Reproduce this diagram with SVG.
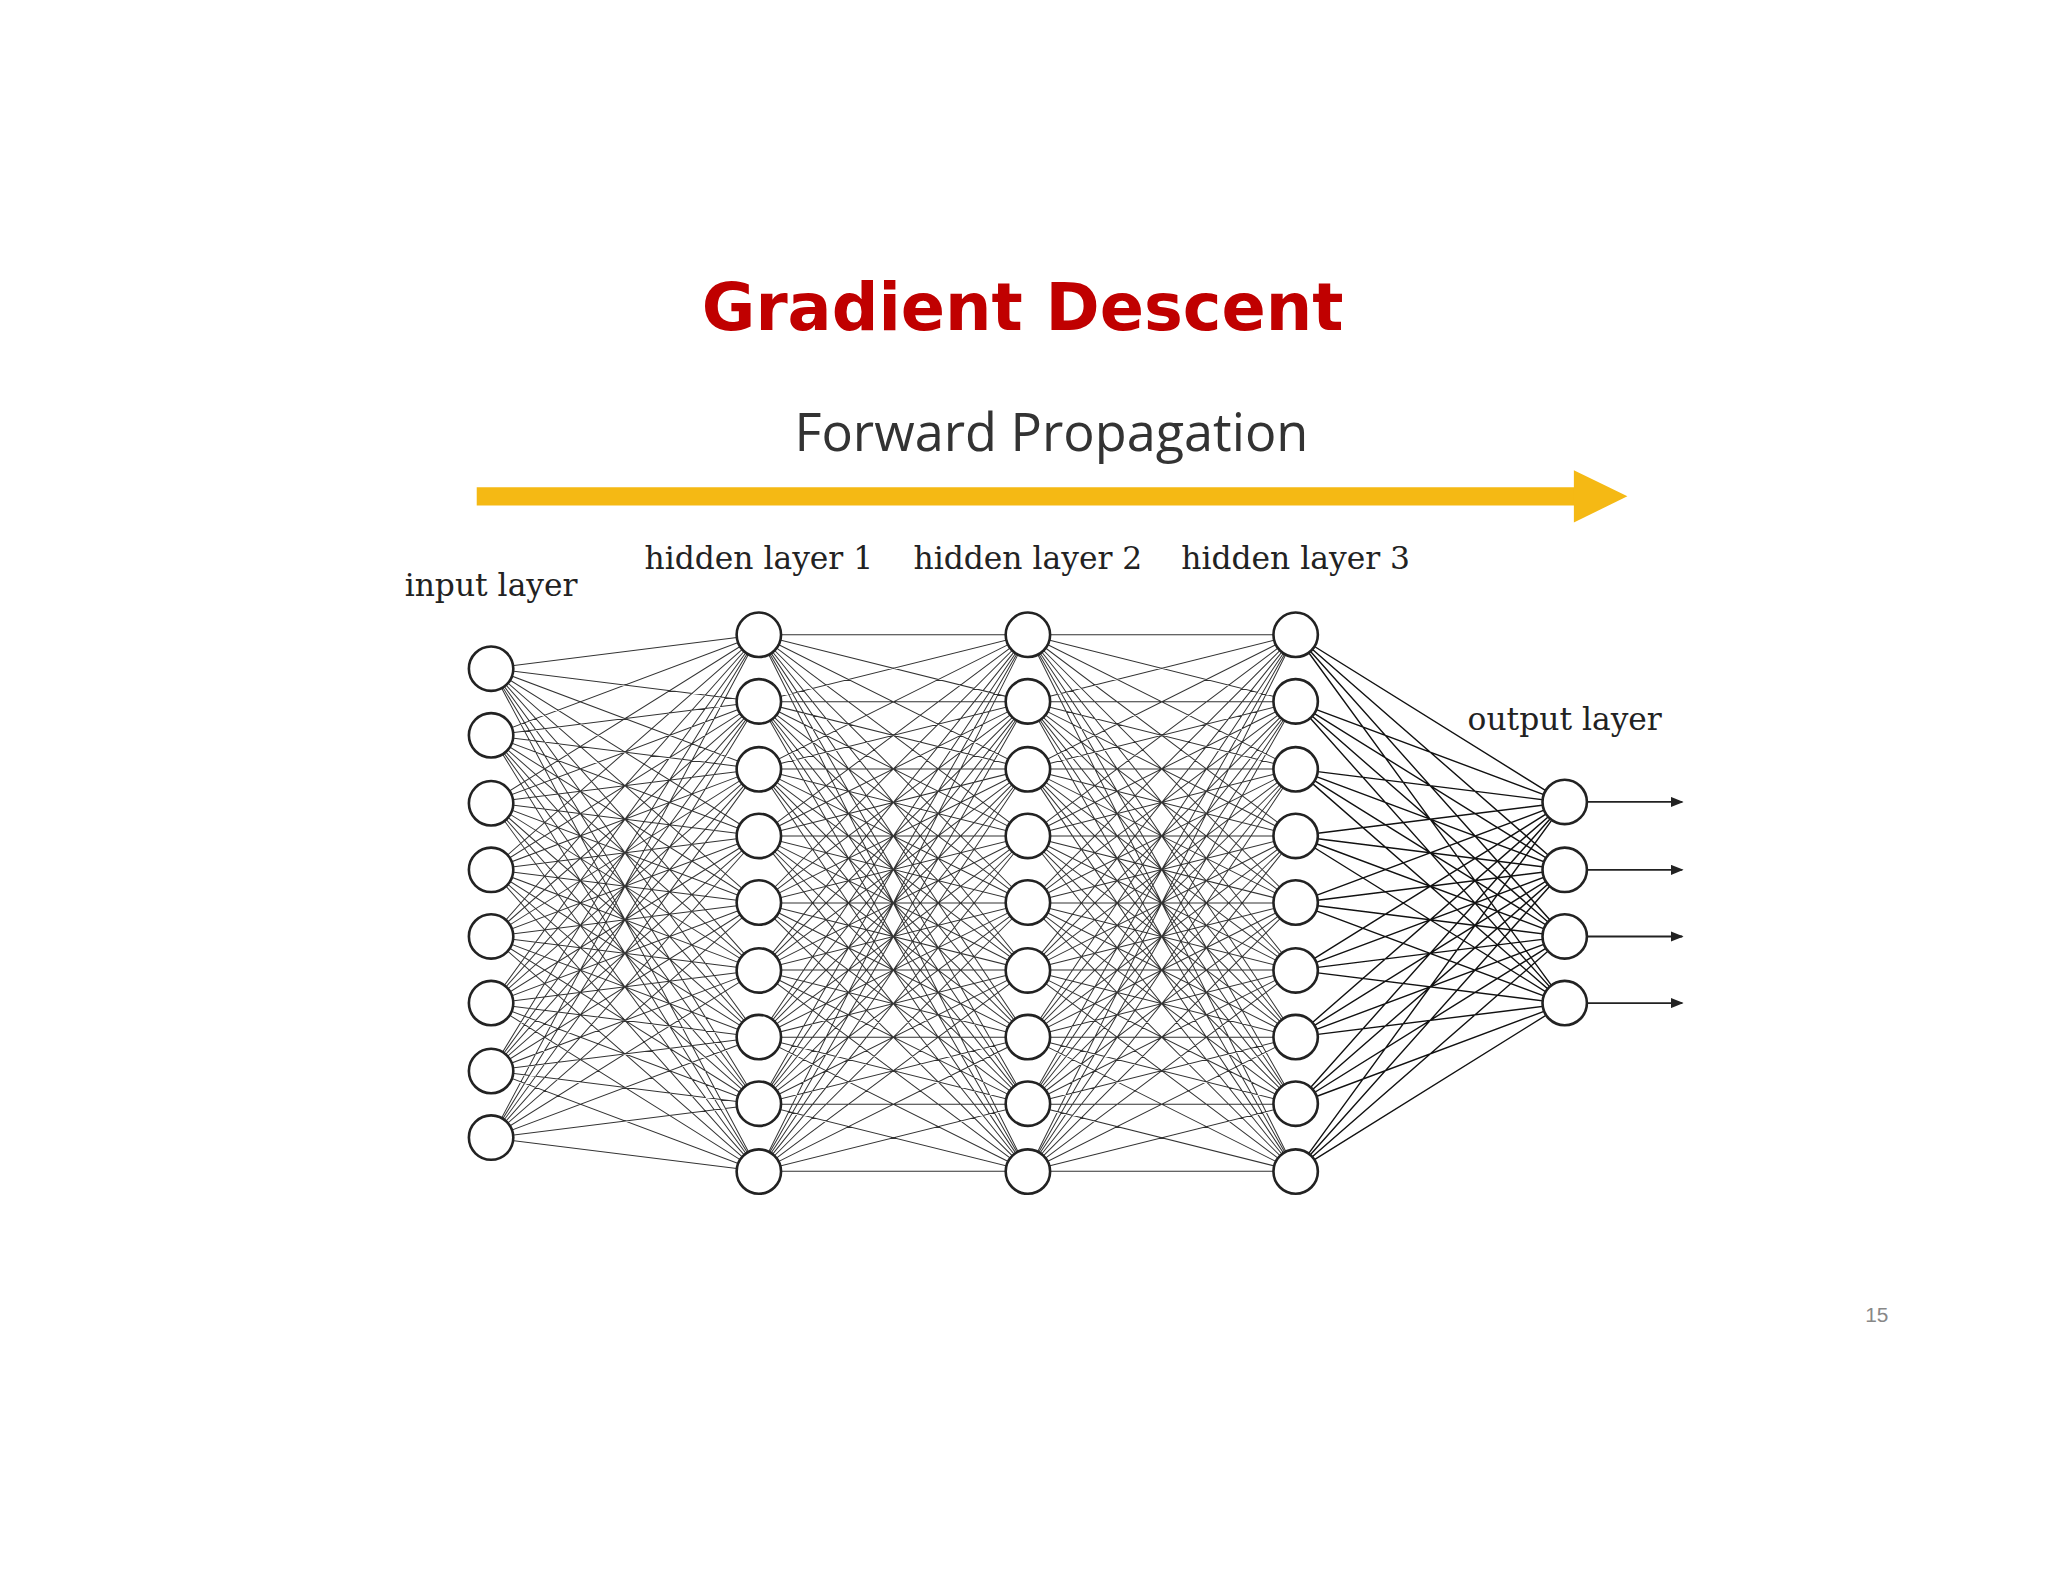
<svg xmlns="http://www.w3.org/2000/svg" width="2048" height="1582" viewBox="0 0 2048 1582">
<style>
.c{fill:#fff;stroke:#222;stroke-width:2}
.e{fill:none;stroke:#333;stroke-width:1}
.lab{font-family:"DejaVu Serif","Liberation Serif",serif;font-size:24px;fill:#222;text-anchor:middle}
</style>
<defs>
<marker id="ah" markerWidth="10" markerHeight="8" refX="9" refY="4" orient="auto" markerUnits="userSpaceOnUse"><path d="M0,0L10,4L0,8z" fill="#222"/></marker>
</defs>
<rect width="2048" height="1582" fill="#fff"/>
<g transform="scale(1.3061)">
<text x="783" y="253" font-family="'Comic Sans MS','DejaVu Sans',sans-serif" font-weight="bold" font-size="50" fill="#c00000" text-anchor="middle">Gradient Descent</text>
<text x="805" y="345" font-family="'Open Sans','DejaVu Sans',sans-serif" font-size="40" fill="#333" text-anchor="middle">Forward Propagation</text>
<path d="M365 380H1210" stroke="#f5b914" stroke-width="14"/>
<path d="M1205 360L1246 380L1205 400z" fill="#f5b914"/>
<text class="lab" x="376" y="456">input layer</text>
<text class="lab" x="581" y="436">hidden layer 1</text>
<text class="lab" x="787" y="436">hidden layer 2</text>
<text class="lab" x="992" y="436">hidden layer 3</text>
<text class="lab" x="1198" y="559">output layer</text>
<text x="1437" y="1012" font-family="'Liberation Sans',sans-serif" font-size="16" fill="#888" text-anchor="middle">15</text>
<g id="connectors">
<g transform="translate(0,486) scale(1,51.35)">
<path class="e" vector-effect="non-scaling-stroke" d="
M376 .5L581 0M376 .5L581 1M376 .5L581 2M376 .5L581 3M376 .5L581 4M376 .5L581 5M376 .5L581 6M376 .5L581 7M376 .5L581 8
M376 1.5L581 0M376 1.5L581 1M376 1.5L581 2M376 1.5L581 3M376 1.5L581 4M376 1.5L581 5M376 1.5L581 6M376 1.5L581 7M376 1.5L581 8
M376 2.5L581 0M376 2.5L581 1M376 2.5L581 2M376 2.5L581 3M376 2.5L581 4M376 2.5L581 5M376 2.5L581 6M376 2.5L581 7M376 2.5L581 8
M376 3.5L581 0M376 3.5L581 1M376 3.5L581 2M376 3.5L581 3M376 3.5L581 4M376 3.5L581 5M376 3.5L581 6M376 3.5L581 7M376 3.5L581 8
M376 4.5L581 0M376 4.5L581 1M376 4.5L581 2M376 4.5L581 3M376 4.5L581 4M376 4.5L581 5M376 4.5L581 6M376 4.5L581 7M376 4.5L581 8
M376 5.5L581 0M376 5.5L581 1M376 5.5L581 2M376 5.5L581 3M376 5.5L581 4M376 5.5L581 5M376 5.5L581 6M376 5.5L581 7M376 5.5L581 8
M376 6.5L581 0M376 6.5L581 1M376 6.5L581 2M376 6.5L581 3M376 6.5L581 4M376 6.5L581 5M376 6.5L581 6M376 6.5L581 7M376 6.5L581 8
M376 7.5L581 0M376 7.5L581 1M376 7.5L581 2M376 7.5L581 3M376 7.5L581 4M376 7.5L581 5M376 7.5L581 6M376 7.5L581 7M376 7.5L581 8"/>
<path class="e" vector-effect="non-scaling-stroke" d="
M581 0L787 0M581 0L787 1M581 0L787 2M581 0L787 3M581 0L787 4M581 0L787 5M581 0L787 6M581 0L787 7M581 0L787 8
M581 1L787 0M581 1L787 1M581 1L787 2M581 1L787 3M581 1L787 4M581 1L787 5M581 1L787 6M581 1L787 7M581 1L787 8
M581 2L787 0M581 2L787 1M581 2L787 2M581 2L787 3M581 2L787 4M581 2L787 5M581 2L787 6M581 2L787 7M581 2L787 8
M581 3L787 0M581 3L787 1M581 3L787 2M581 3L787 3M581 3L787 4M581 3L787 5M581 3L787 6M581 3L787 7M581 3L787 8
M581 4L787 0M581 4L787 1M581 4L787 2M581 4L787 3M581 4L787 4M581 4L787 5M581 4L787 6M581 4L787 7M581 4L787 8
M581 5L787 0M581 5L787 1M581 5L787 2M581 5L787 3M581 5L787 4M581 5L787 5M581 5L787 6M581 5L787 7M581 5L787 8
M581 6L787 0M581 6L787 1M581 6L787 2M581 6L787 3M581 6L787 4M581 6L787 5M581 6L787 6M581 6L787 7M581 6L787 8
M581 7L787 0M581 7L787 1M581 7L787 2M581 7L787 3M581 7L787 4M581 7L787 5M581 7L787 6M581 7L787 7M581 7L787 8
M581 8L787 0M581 8L787 1M581 8L787 2M581 8L787 3M581 8L787 4M581 8L787 5M581 8L787 6M581 8L787 7M581 8L787 8"/>
<path class="e" vector-effect="non-scaling-stroke" d="
M787 0L992 0M787 0L992 1M787 0L992 2M787 0L992 3M787 0L992 4M787 0L992 5M787 0L992 6M787 0L992 7M787 0L992 8
M787 1L992 0M787 1L992 1M787 1L992 2M787 1L992 3M787 1L992 4M787 1L992 5M787 1L992 6M787 1L992 7M787 1L992 8
M787 2L992 0M787 2L992 1M787 2L992 2M787 2L992 3M787 2L992 4M787 2L992 5M787 2L992 6M787 2L992 7M787 2L992 8
M787 3L992 0M787 3L992 1M787 3L992 2M787 3L992 3M787 3L992 4M787 3L992 5M787 3L992 6M787 3L992 7M787 3L992 8
M787 4L992 0M787 4L992 1M787 4L992 2M787 4L992 3M787 4L992 4M787 4L992 5M787 4L992 6M787 4L992 7M787 4L992 8
M787 5L992 0M787 5L992 1M787 5L992 2M787 5L992 3M787 5L992 4M787 5L992 5M787 5L992 6M787 5L992 7M787 5L992 8
M787 6L992 0M787 6L992 1M787 6L992 2M787 6L992 3M787 6L992 4M787 6L992 5M787 6L992 6M787 6L992 7M787 6L992 8
M787 7L992 0M787 7L992 1M787 7L992 2M787 7L992 3M787 7L992 4M787 7L992 5M787 7L992 6M787 7L992 7M787 7L992 8
M787 8L992 0M787 8L992 1M787 8L992 2M787 8L992 3M787 8L992 4M787 8L992 5M787 8L992 6M787 8L992 7M787 8L992 8"/>
<path class="e" vector-effect="non-scaling-stroke" style="stroke:#111;stroke-width:1.4" d="
M992 0L1198 2.5M992 0L1198 3.5M992 0L1198 4.5M992 0L1198 5.5
M992 1L1198 2.5M992 1L1198 3.5M992 1L1198 4.5M992 1L1198 5.5
M992 2L1198 2.5M992 2L1198 3.5M992 2L1198 4.5M992 2L1198 5.5
M992 3L1198 2.5M992 3L1198 3.5M992 3L1198 4.5M992 3L1198 5.5
M992 4L1198 2.5M992 4L1198 3.5M992 4L1198 4.5M992 4L1198 5.5
M992 5L1198 2.5M992 5L1198 3.5M992 5L1198 4.5M992 5L1198 5.5
M992 6L1198 2.5M992 6L1198 3.5M992 6L1198 4.5M992 6L1198 5.5
M992 7L1198 2.5M992 7L1198 3.5M992 7L1198 4.5M992 7L1198 5.5
M992 8L1198 2.5M992 8L1198 3.5M992 8L1198 4.5M992 8L1198 5.5"/>
</g>
<g stroke="#222" stroke-width="1.4" marker-end="url(#ah)">
<path d="M1215 614H1288"/><path d="M1215 666H1288"/><path d="M1215 717H1288"/><path d="M1215 768H1288"/>
</g>
</g>
<g id="input">
<circle class="c" cx="376" cy="512" r="17"/><circle class="c" cx="376" cy="563" r="17"/><circle class="c" cx="376" cy="615" r="17"/><circle class="c" cx="376" cy="666" r="17"/><circle class="c" cx="376" cy="717" r="17"/><circle class="c" cx="376" cy="768" r="17"/><circle class="c" cx="376" cy="820" r="17"/><circle class="c" cx="376" cy="871" r="17"/>
</g>
<g id="hidden1">
<circle class="c" cx="581" cy="486" r="17"/><circle class="c" cx="581" cy="537" r="17"/><circle class="c" cx="581" cy="589" r="17"/><circle class="c" cx="581" cy="640" r="17"/><circle class="c" cx="581" cy="691" r="17"/><circle class="c" cx="581" cy="743" r="17"/><circle class="c" cx="581" cy="794" r="17"/><circle class="c" cx="581" cy="845" r="17"/><circle class="c" cx="581" cy="897" r="17"/>
</g>
<g id="hidden2">
<circle class="c" cx="787" cy="486" r="17"/><circle class="c" cx="787" cy="537" r="17"/><circle class="c" cx="787" cy="589" r="17"/><circle class="c" cx="787" cy="640" r="17"/><circle class="c" cx="787" cy="691" r="17"/><circle class="c" cx="787" cy="743" r="17"/><circle class="c" cx="787" cy="794" r="17"/><circle class="c" cx="787" cy="845" r="17"/><circle class="c" cx="787" cy="897" r="17"/>
</g>
<g id="hidden3">
<circle class="c" cx="992" cy="486" r="17"/><circle class="c" cx="992" cy="537" r="17"/><circle class="c" cx="992" cy="589" r="17"/><circle class="c" cx="992" cy="640" r="17"/><circle class="c" cx="992" cy="691" r="17"/><circle class="c" cx="992" cy="743" r="17"/><circle class="c" cx="992" cy="794" r="17"/><circle class="c" cx="992" cy="845" r="17"/><circle class="c" cx="992" cy="897" r="17"/>
</g>
<g id="output">
<circle class="c" cx="1198" cy="614" r="17"/><circle class="c" cx="1198" cy="666" r="17"/><circle class="c" cx="1198" cy="717" r="17"/><circle class="c" cx="1198" cy="768" r="17"/>
</g>
</g>
</svg>
